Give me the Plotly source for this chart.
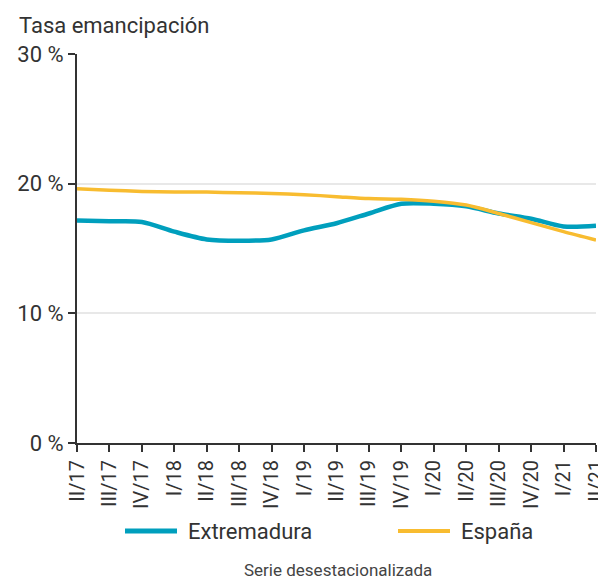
import plotly.graph_objects as go

quarters = ["II/17", "III/17", "IV/17", "I/18", "II/18", "III/18", "IV/18", "I/19",
            "II/19", "III/19", "IV/19", "I/20", "II/20", "III/20", "IV/20", "I/21", "II/21"]
extremadura = [17.15, 17.1, 17.05, 16.3, 15.7, 15.6, 15.7, 16.4, 16.95, 17.7, 18.45,
               18.45, 18.25, 17.7, 17.3, 16.7, 16.75]
espana = [19.6, 19.5, 19.4, 19.35, 19.35, 19.3, 19.25, 19.15, 19.0, 18.85, 18.8,
          18.65, 18.35, 17.7, 17.0, 16.3, 15.65]
y_ticks = [0, 10, 20, 30]
y_labels = ["0 %", "10 %", "20 %", "30 %"]

series = [("Extremadura", extremadura, "#009FBD", 4.5),
          ("España", espana, "#F8BC30", 3.5)]

xs = list(range(len(quarters)))
FONT = "Roboto"
TXT = "#333333"

W, H = 598, 579
L, R, T, B = 77, 2, 54, 579 - 443
pw, ph = W - L - R, H - T - B

def px(xp):
    return (xp - L) / pw

def py(yp):
    return (H - B - yp) / ph

fig = go.Figure()
for name, vals, color, width in series:
    fig.add_trace(go.Scatter(x=xs, y=vals, name=name, mode="lines",
                             line=dict(color=color, width=width, shape="spline", smoothing=0.8),
                             cliponaxis=False, showlegend=False))

shapes = []
annotations = [
    dict(text="Tasa emancipación", xref="paper", yref="paper", x=px(17), y=py(25),
         xanchor="left", yanchor="middle", showarrow=False,
         font=dict(size=22, color=TXT)),
    dict(text="Serie desestacionalizada", xref="paper", yref="paper", x=px(338), y=py(570),
         xanchor="center", yanchor="middle", showarrow=False,
         font=dict(size=17, color="#444444")),
]
legend_pos = [(125, 177, 186), (398, 450, 459)]
for (name, vals, color, width), (x0, x1, xt) in zip(series, legend_pos):
    shapes.append(dict(type="line", xref="paper", yref="paper", x0=px(x0), x1=px(x1),
                       y0=py(531), y1=py(531), line=dict(color=color, width=width + 0.5)))
    annotations.append(dict(text=name, xref="paper", yref="paper", x=px(xt), y=py(531),
                            xanchor="left", yanchor="middle", showarrow=False,
                            font=dict(size=22, color=TXT)))

fig.update_layout(
    width=W, height=H,
    margin=dict(l=L, r=R, t=T, b=B, autoexpand=False),
    plot_bgcolor="white", paper_bgcolor="white",
    font=dict(family=FONT, color=TXT),
    showlegend=False,
    xaxis=dict(range=[0, 16], tickmode="array", tickvals=xs, ticktext=quarters,
               tickangle=-90, tickfont=dict(size=20, color=TXT), automargin=False,
               ticklabeloverflow="allow",
               showgrid=False, showline=True, linecolor="#333333", linewidth=2,
               ticks="outside", ticklen=7, tickwidth=2, tickcolor="#333333", zeroline=False),
    yaxis=dict(range=[0, 30], tickmode="array", tickvals=y_ticks, ticktext=y_labels,
               tickfont=dict(size=22, color=TXT), automargin=False, ticklabelstandoff=0,
               ticklabeloverflow="allow",
               showgrid=True, gridcolor="#E8E8E8", gridwidth=1.5,
               showline=True, linecolor="#333333", linewidth=2,
               ticks="outside", ticklen=7, tickwidth=2, tickcolor="#333333", zeroline=False),
    shapes=shapes,
    annotations=annotations,
)

fig.write_html("out.html", config={"displayModeBar": False},
               post_script="document.body.style.margin='0';document.body.style.overflow='hidden';")
